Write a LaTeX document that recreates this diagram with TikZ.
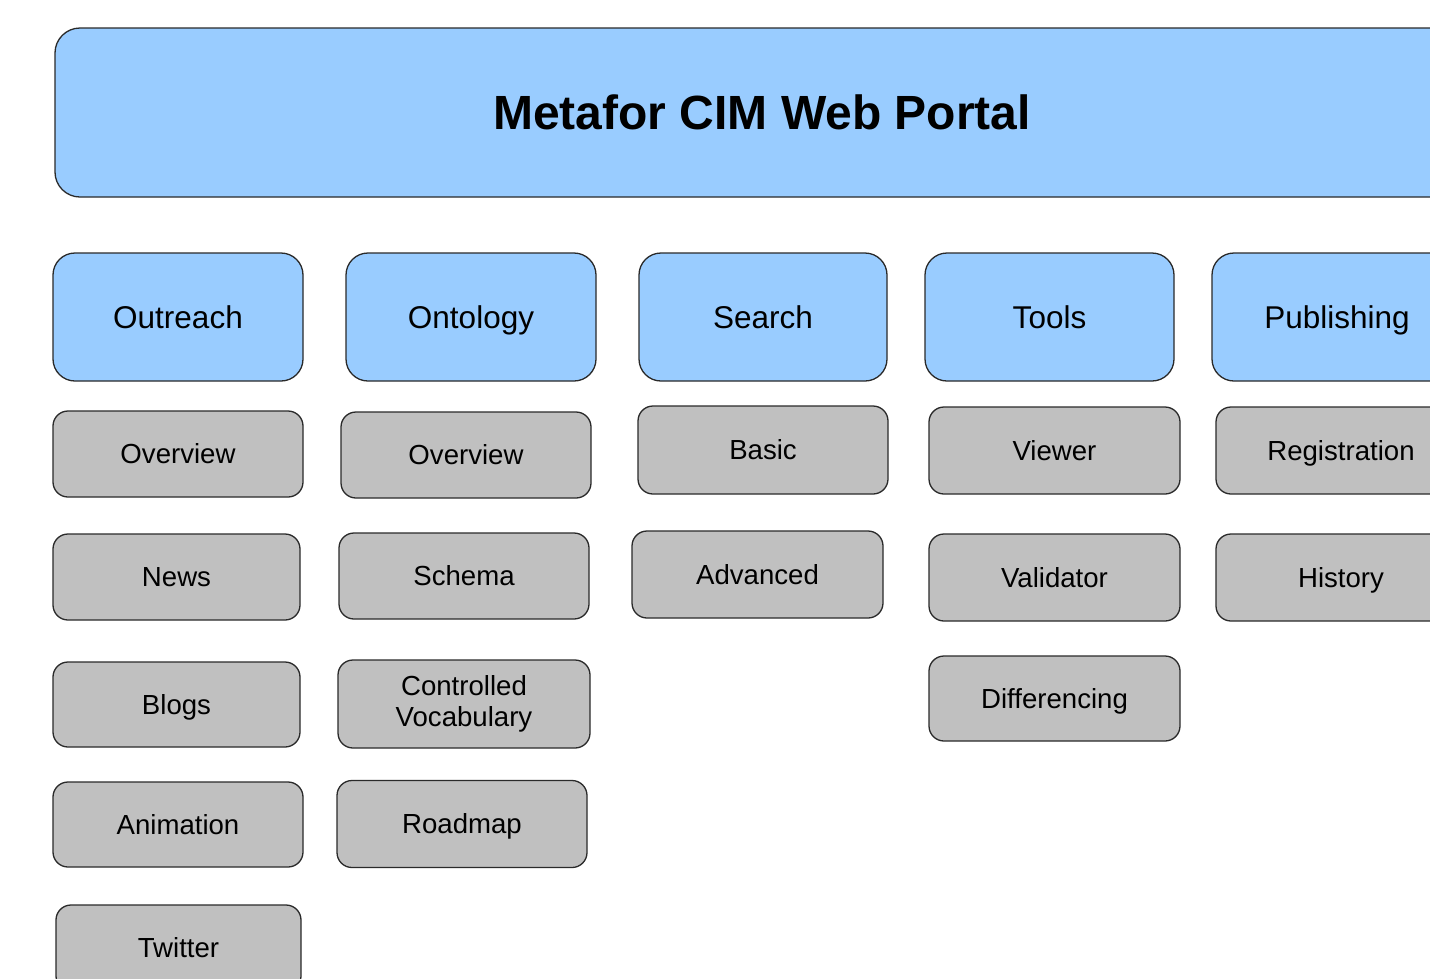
\documentclass[tikz,border=0pt]{standalone}
\usepackage{fontspec}
\setmainfont{Liberation Sans}
\definecolor{topblue}{HTML}{99CCFF}
\definecolor{subgray}{HTML}{C0C0C0}
\definecolor{edge}{HTML}{2A2A2A}
\tikzset{
  titlebox/.style={draw=edge, line width=1.3pt, fill=topblue, rounded corners=25pt,
    inner sep=0pt, text height=34.4pt, text depth=0pt, font=\fontsize{48}{56}\selectfont\bfseries},
  bluebox/.style={draw=edge, line width=1.3pt, fill=topblue, rounded corners=22pt,
    inner sep=0pt, text height=22.5pt, text depth=0pt, font=\fontsize{31.5}{36}\selectfont},
  graybox/.style={draw=edge, line width=1.3pt, fill=subgray, rounded corners=15pt,
    inner sep=0pt, text height=19.8pt, text depth=0pt, font=\fontsize{27.6}{31}\selectfont},
  twoline/.style={text height=, text depth=, align=center},
}
\begin{document}
\begin{tikzpicture}[x=1pt,y=-1pt]
\useasboundingbox (0,0) rectangle (1430,978);
\clip (0,0) rectangle (1430,978);
\fill[white] (0,0) rectangle (1430,978);

\node[titlebox, minimum width=1414, minimum height=169] (portal) at (762,112.5) {Metafor CIM Web Portal};

\node[bluebox, minimum width=250, minimum height=128] (outreach) at (178,317) {Outreach};
\node[bluebox, minimum width=250, minimum height=128] (ontology) at (471,317) {Ontology};
\node[bluebox, minimum width=248, minimum height=128] (search) at (763,317) {Search};
\node[bluebox, minimum width=249, minimum height=128] (tools) at (1049.5,317) {Tools};
\node[bluebox, minimum width=250, minimum height=128] (publishing) at (1337,317) {Publishing};

\node[graybox, minimum width=250, minimum height=86] (ov1) at (178,454) {Overview};
\node[graybox, minimum width=247, minimum height=86] (news) at (176.5,577) {News};
\node[graybox, minimum width=247, minimum height=85] (blogs) at (176.5,704.5) {Blogs};
\node[graybox, minimum width=250, minimum height=85] (anim) at (178,824.5) {Animation};
\node[graybox, minimum width=245, minimum height=86] (twitter) at (178.5,948) {Twitter};

\node[graybox, minimum width=250, minimum height=86] (ov2) at (466,455) {Overview};
\node[graybox, minimum width=250, minimum height=86] (schema) at (464,576) {Schema};
\node[graybox, twoline, minimum width=252, minimum height=88] (cv) at (464,704) {Controlled\\Vocabulary};
\node[graybox, minimum width=250, minimum height=87] (roadmap) at (462,824) {Roadmap};

\node[graybox, minimum width=250, minimum height=88] (basic) at (763,450) {Basic};
\node[graybox, minimum width=251, minimum height=87] (advanced) at (757.5,574.5) {Advanced};

\node[graybox, minimum width=251, minimum height=87] (viewer) at (1054.5,450.5) {Viewer};
\node[graybox, minimum width=251, minimum height=87] (validator) at (1054.5,577.5) {Validator};
\node[graybox, minimum width=251, minimum height=85] (diff) at (1054.5,698.5) {Differencing};

\node[graybox, minimum width=250, minimum height=87] (registration) at (1341,450.5) {Registration};
\node[graybox, minimum width=250, minimum height=87] (history) at (1341,577.5) {History};
\end{tikzpicture}
\end{document}
